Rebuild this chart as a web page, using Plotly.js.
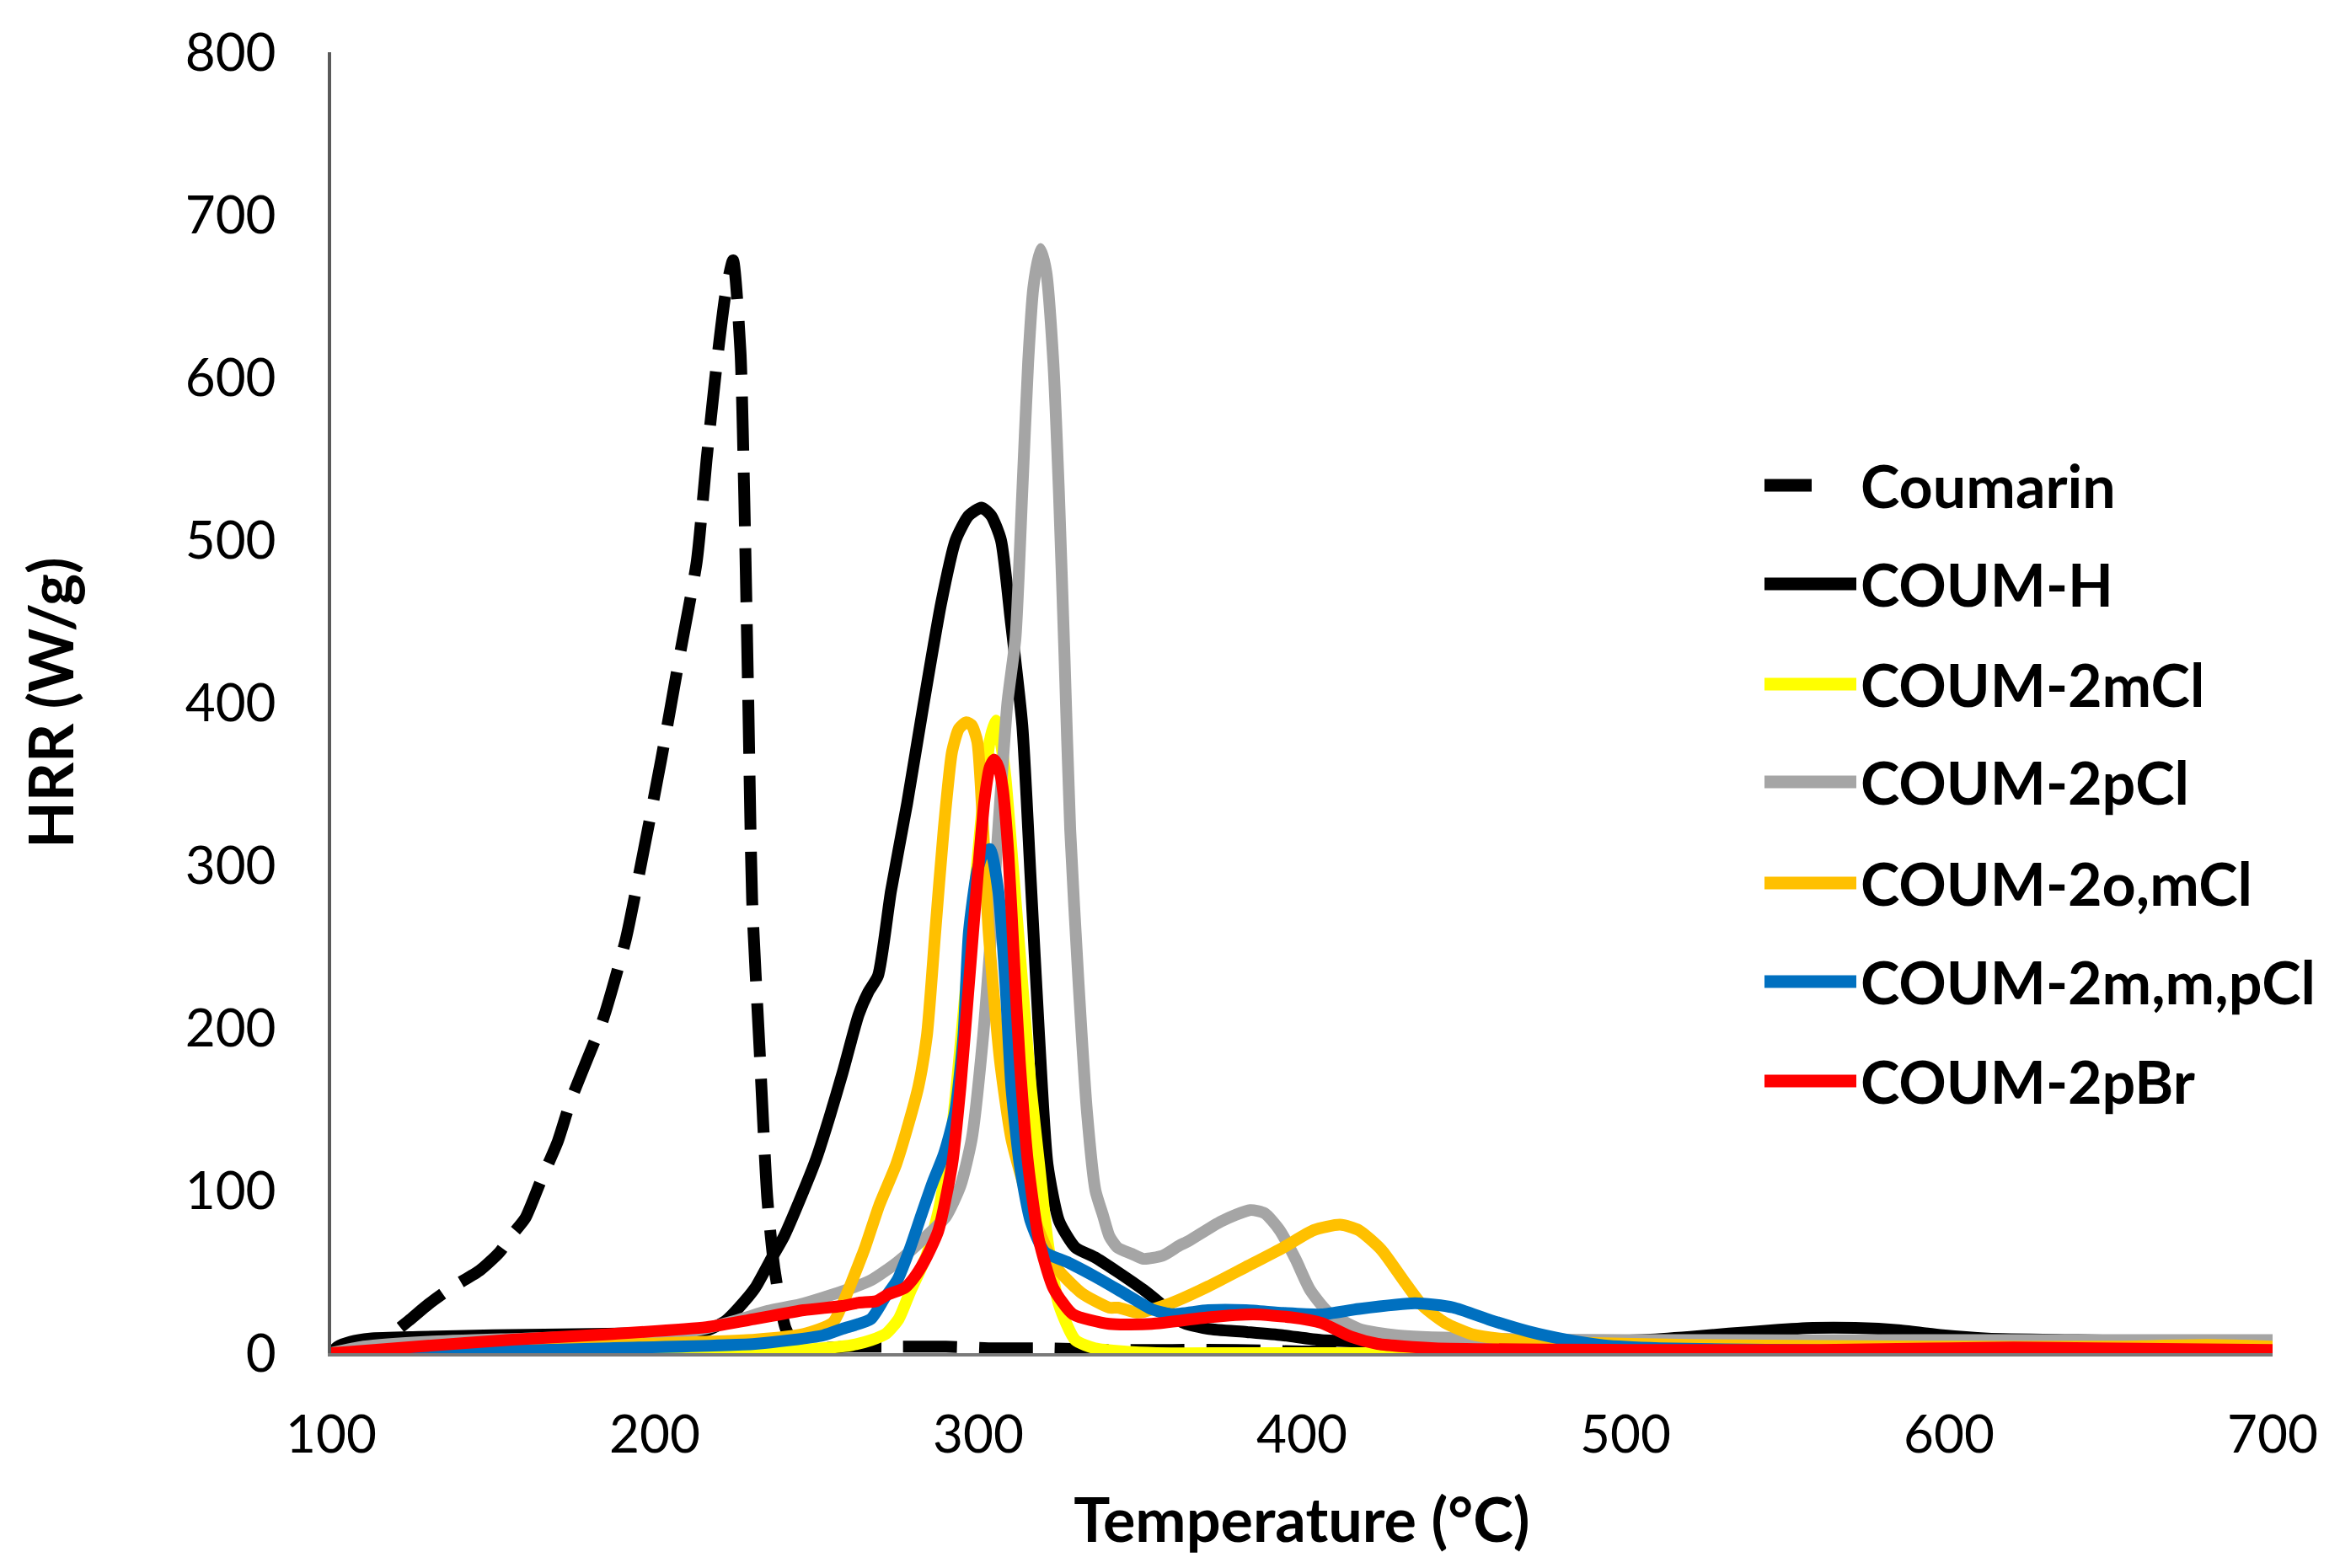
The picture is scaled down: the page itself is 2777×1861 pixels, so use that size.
<!DOCTYPE html>
<html>
<head>
<meta charset="utf-8">
<script src="https://cdn.plot.ly/plotly-3.0.1.min.js"></script>
<style>html,body{margin:0;padding:0;background:#fff;}</style>
</head>
<body>
<div id="chart" style="width:2777px;height:1861px;"></div>
<script>
// ---------------- DATA ----------------
const seriesNames = ['Coumarin', 'COUM-H', 'COUM-2mCl', 'COUM-2pCl', 'COUM-2o,mCl', 'COUM-2m,m,pCl', 'COUM-2pBr'];

const coumarinT   = [100, 108, 115, 119, 124, 130, 137, 146, 152, 156, 160, 165, 170, 174, 179, 184, 191, 196, 202, 208, 213, 216, 219.6, 222, 224.2, 226.5, 227.7, 228.9, 230.1, 232.4, 234.8, 237, 240.5, 244, 250, 260, 275, 290, 305, 320, 340, 360, 380, 400, 420, 430];
const coumarinHRR = [0, 2, 6, 12, 20, 30, 40, 51, 62, 73, 83, 107, 130, 155, 180, 205, 254, 303, 365, 432, 487, 549, 616, 653, 672, 616, 524, 402, 279, 187, 95, 52, 15, 4, 3, 4, 4, 4, 3, 3, 2, 2, 2, 1, 1, 0];

const coumHT   = [100, 102, 106, 112, 127, 150, 171, 200, 216, 222, 226, 231, 236, 240, 245, 250, 254, 258, 263, 266, 269, 273, 278, 283, 288.5, 293, 297, 301, 304, 307, 310, 313.6, 316.2, 318.8, 321.4, 325, 330, 336, 343, 351, 356, 363, 371, 383, 394, 406, 420, 440, 470, 505, 520, 532, 545, 558, 571, 585, 598, 612, 640, 670, 700];
const coumHHRR = [0, 4, 7, 9, 10, 11, 11.5, 12.5, 14, 20, 28, 40, 58, 72, 95, 120, 145, 172, 208, 222, 232, 284, 338, 398, 461, 500, 515, 520, 515, 500, 451, 386, 291, 195, 116, 81, 65, 59, 50, 39, 31, 19, 15, 13, 11, 8, 7, 6, 6, 8, 10, 12, 14, 15.5, 15.5, 14, 11, 9, 8, 7, 7];

const coum2mClT   = [100, 130, 160, 186, 210, 240, 255, 261, 266.8, 271.5, 275.4, 279, 284, 288, 292, 295, 298, 301, 303.5, 305.4, 307, 308.4, 311, 313.6, 316.2, 318.8, 321.4, 324.9, 330, 336, 345, 355, 380, 450, 550, 700];
const coum2mClHRR = [0, 0, 0, 0, 0.5, 1.4, 3.5, 5, 8, 12, 21, 38, 60, 90, 140, 200, 265, 330, 376, 389, 375, 354, 291, 227, 164, 116, 69, 30, 8, 3, 1, 0, 0, 0, 0, 0];

const coum2pClT   = [100, 110, 130, 160, 190, 210, 225, 235, 245, 258, 267, 275, 284, 290, 294.5, 298, 301.5, 304, 306.7, 309, 311.5, 313.6, 315.4, 317, 319.2, 321, 323.2, 324.9, 326.6, 328.4, 331, 333.6, 336.2, 338.5, 340.5, 343, 347.5, 351, 357, 362, 365, 375, 384, 388.5, 393, 398, 402.5, 408, 417.6, 429, 452, 500, 600, 700];
const coum2pClHRR = [0, 4, 7, 9, 11, 13, 20, 26, 30, 38, 45, 56, 72, 84, 103, 132, 195, 259, 338, 400, 440, 530, 609, 655, 679, 665, 609, 530, 431, 322, 227, 148, 100, 85, 72, 65, 61, 58, 60, 66, 69, 81, 88, 86, 76, 58, 39, 25.5, 15, 11, 9, 8, 8, 8];

const coum2omClT   = [100, 130, 160, 200, 231, 246, 255, 258, 260.7, 265, 269.4, 274.6, 278, 281.5, 284.1, 286.7, 289.3, 291.9, 294, 296.3, 298, 299.7, 301.5, 303.2, 306.7, 310.2, 314.5, 318.8, 324, 331.9, 340.5, 343.2, 349, 351.3, 359.5, 371, 382.7, 394.3, 403.6, 411.8, 417.6, 424.6, 431.5, 437.4, 444.3, 452.5, 464, 481.6, 520, 600, 650, 680, 700];
const coum2omClHRR = [0, 2, 4, 6, 8.3, 11.7, 18.6, 30, 43, 65, 91, 116, 138, 164, 195, 259, 322, 370, 384, 388, 386, 376, 322, 259, 180, 132, 100, 75, 53, 37, 28, 28, 25, 25.5, 30.7, 41, 53, 65, 75.6, 79, 75.6, 63.5, 44.5, 29, 18.6, 11.7, 8.3, 6.6, 5, 4, 4, 5, 4];

const coum2mmpClT   = [100, 134, 186, 231, 252, 258, 266.8, 271.1, 275, 279, 282.4, 285.9, 289.3, 292.8, 295.4, 297.1, 299.7, 301.5, 303.6, 306.2, 308.4, 310.2, 312.8, 316.2, 320.6, 327.5, 336.2, 344.9, 353.6, 359.5, 371, 382.7, 394.3, 406, 417.6, 435, 446.7, 458.3, 469.9, 481.6, 493.2, 510.6, 550, 600, 650, 700];
const coum2mmpClHRR = [0, 0.5, 3, 5.7, 10.9, 15, 21, 34, 45, 65, 85, 105, 122, 148, 195, 259, 297, 307, 310, 284, 227, 164, 116, 81, 62, 56, 47, 37, 27, 24, 26.4, 26.4, 24.7, 23.8, 27.2, 30.7, 28.1, 20.3, 13.4, 8.3, 4.8, 3, 2, 1, 1, 1];

const coum2pBrT   = [100, 104, 126.5, 156, 186, 216, 231, 246, 258, 263, 268.5, 272, 277.2, 280, 283.2, 287.6, 291.9, 294.5, 297.1, 299.7, 301.9, 303.5, 304.9, 306.3, 307.5, 309.3, 311, 312.8, 315.4, 318.8, 323.2, 329.2, 340.5, 353.6, 371, 385, 396.7, 406, 415.3, 423.4, 441, 500, 560, 600, 620, 645, 700];
const coum2pBrHRR = [0, 0.5, 4, 8.3, 11.7, 16, 21, 26.4, 29, 31, 32, 36, 40, 46, 56, 75, 116, 164, 227, 291, 340, 360, 365, 360, 348, 307, 243, 180, 116, 69, 40, 24, 18, 18, 22, 23.8, 22, 18.6, 10, 5.7, 3, 2, 2, 3, 3.5, 3, 2];

const xTickVals = [100, 200, 300, 400, 500, 600, 700];
const yTickVals = [0, 100, 200, 300, 400, 500, 600, 700, 800];
const xTitle = 'Temperature (°C)';
const yTitle = 'HRR (W/g)';

// ---------------- STYLE ----------------
const seriesX = [coumarinT, coumHT, coum2mClT, coum2pClT, coum2omClT, coum2mmpClT, coum2pBrT];
const seriesY = [coumarinHRR, coumHHRR, coum2mClHRR, coum2pClHRR, coum2omClHRR, coum2mmpClHRR, coum2pBrHRR];
const colors = ['#000000', '#000000', '#FFFF00', '#A5A5A5', '#FFC000', '#0070C0', '#FF0000'];
const dashes = ['64px,26px', 'solid', 'solid', 'solid', 'solid', 'solid', 'solid'];
const LW = 14;

const traces = seriesNames.map((n, i) => ({
  type: 'scatter', mode: 'lines', name: n,
  x: seriesX[i], y: seriesY[i],
  line: {color: colors[i], width: LW, dash: dashes[i], shape: 'spline', smoothing: 0.6},
  showlegend: false, hoverinfo: 'skip'
}));

// plot area pixel frame
const L = 393, R = 2697, T = 62, B = 1606;
const W = 2777, H = 1861;
const px = v => (v - L) / (R - L);
const py = v => (B - v) / (B - T);

// manual legend (long line samples like the original)
const legendRows = [576, 693, 812, 928, 1048, 1165, 1283];
const shapes = [];
const annotations = [];
seriesNames.forEach((n, i) => {
  const x1 = i === 0 ? 2150 : 2203;
  shapes.push({type: 'line', xref: 'paper', yref: 'paper',
    x0: px(2094), x1: px(x1), y0: py(legendRows[i]), y1: py(legendRows[i]),
    line: {color: colors[i], width: 15}});
  annotations.push({xref: 'paper', yref: 'paper', x: px(2206), y: py(legendRows[i]),
    xanchor: 'left', yanchor: 'middle', showarrow: false, text: n,
    font: {family: 'Lato', size: 70, color: '#000', weight: 700}});
});

const layout = {
  width: W, height: H,
  margin: {l: L, r: W - R, t: T, b: H - B, pad: 0},
  paper_bgcolor: '#ffffff', plot_bgcolor: '#ffffff',
  font: {family: 'Lato', color: '#000'},
  showlegend: false,
  xaxis: {
    range: [100, 700], tickvals: xTickVals, ticktext: xTickVals.map(String),
    showgrid: false, zeroline: false, showline: true, linecolor: '#7a7a7a', linewidth: 4,
    ticks: '', ticklabelstandoff: 40, layer: 'below traces',
    tickfont: {family: 'Lato', size: 62, color: '#000'},
    title: {text: xTitle, font: {family: 'Lato', size: 72, color: '#000', weight: 700}, standoff: 44},
    automargin: false, fixedrange: true
  },
  yaxis: {
    range: [0, 800], tickvals: yTickVals, ticktext: yTickVals.map(String),
    showgrid: false, zeroline: false, showline: true, linecolor: '#5a5a5a', linewidth: 4,
    ticks: '', ticklabelstandoff: 49, layer: 'below traces',
    tickfont: {family: 'Lato', size: 62, color: '#000'},
    title: {text: yTitle, font: {family: 'Lato', size: 72, color: '#000', weight: 700}, standoff: 110},
    automargin: false, fixedrange: true
  },
  shapes: shapes,
  annotations: annotations
};

Plotly.newPlot('chart', traces, layout, {staticPlot: true, displayModeBar: false});
</script>
</body>
</html>
